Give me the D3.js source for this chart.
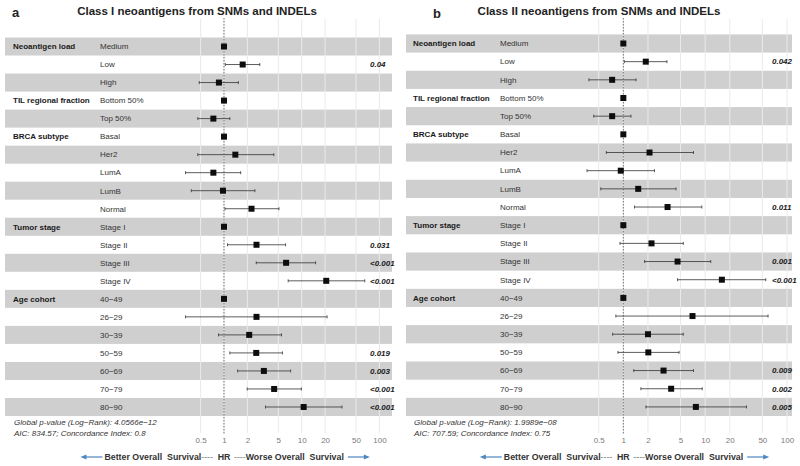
<!DOCTYPE html>
<html><head><meta charset="utf-8">
<script src="https://cdn.jsdelivr.net/npm/d3@7"></script>
<style>body{margin:0;background:#fff} svg{display:block;font-family:"Liberation Sans",Arial,sans-serif}</style>
</head><body><svg id="c" width="800" height="466"></svg>
<script>
// ---------- data ----------
const groupLabels = ["Neoantigen load","","","TIL regional fraction","","BRCA subtype","","","","","Tumor stage","","","","Age cohort","","","","","",""];
const levels = ["Medium","Low","High","Bottom 50%","Top 50%","Basal","Her2","LumA","LumB","Normal","Stage I","Stage II","Stage III","Stage IV","40\u221249","26\u221229","30\u221239","50\u221259","60\u221269","70\u221279","80\u221290"];

const hrA  = [1,1.74,0.86,1,0.73,1,1.40,0.73,0.97,2.26,1,2.62,6.3,20.7,1,2.62,2.11,2.6,3.26,4.42,10.6];
const lowA = [null,1.04,0.48,null,0.46,null,0.46,0.32,0.38,1.03,null,1.11,2.6,6.7,null,0.32,0.85,1.19,1.5,1.99,3.42];
const highA= [null,2.89,1.53,null,1.19,null,4.38,1.64,2.5,5.1,null,6.2,15.1,64.8,null,21.2,5.5,5.65,7.2,9.9,33];
const pA   = ["","0.04","","","","","","","","","","0.031","<0.001","<0.001","","","","0.019","0.003","<0.001","<0.001"];

const hrB  = [1,1.88,0.73,1,0.73,1,2.09,0.93,1.52,3.47,1,2.21,4.6,16,1,7.0,2.0,2.02,3.1,3.84,7.7];
const lowB = [null,1.03,0.38,null,0.435,null,0.62,0.36,0.53,1.37,null,0.91,1.82,4.6,null,0.81,0.74,0.86,1.34,1.64,1.89];
const highB= [null,3.41,1.43,null,1.24,null,7.2,2.4,4.4,9.1,null,5.4,11.7,55,null,58.7,5.4,4.8,7.2,9.2,32];
const pB   = ["","0.042","","","","","","","","0.011","","","0.001","<0.001","","","","","0.009","0.002","0.005"];

const tickValues = [0.5,1,2,5,10,20,50,100];
const tickLabels = ["0.5","1","2","5","10","20","50","100"];

const titles = ["Class I neoantigens from SNMs and INDELs","Class II neoantigens from SNMs and INDELs"];
const panelLetters = ["a","b"];
const footer1 = ["Global p-value (Log\u2212Rank): 4.0566e\u221212","Global p-value (Log\u2212Rank): 1.9989e\u221208"];
const footer2 = ["AIC: 834.57; Concordance Index: 0.8","AIC: 707.59; Concordance Index: 0.75"];

// ---------- layout ----------
const panels = [
  {hr:hrA, lo:lowA, hi:highA, p:pA, xr:[200.6,379.4], yr:[37.5,416], bx:[5,392], gx:13, lx:100, px:370, tx:197, letterX:12, letterY:17, fx:14},
  {hr:hrB, lo:lowB, hi:highB, p:pB, xr:[598.7,787], yr:[34.4,416], bx:[406,792], gx:413, lx:500, px:772, tx:599, letterX:433, letterY:18, fx:414}
];

const svg = d3.select("#c");

panels.forEach((P, k) => {
  const g = svg.append("g");
  const x = d3.scaleLog().domain([0.5,100]).range(P.xr);
  const y = d3.scaleBand().domain(d3.range(levels.length)).range(P.yr).padding(0);

  // bands
  g.selectAll("rect.band").data(d3.range(levels.length).filter(i => i % 2 === 0))
    .join("rect").attr("class","band")
    .attr("x", P.bx[0]).attr("width", P.bx[1]-P.bx[0])
    .attr("y", i => y(i)).attr("height", y.bandwidth())
    .attr("fill", "#cfcfcf");

  // gridlines
  g.selectAll("line.grid").data(tickValues).join("line").attr("class","grid")
    .attr("x1", d => x(d)).attr("x2", d => x(d))
    .attr("y1", 19).attr("y2", 433)
    .attr("stroke", "#eaeaea").attr("stroke-width", 1);

  // reference line at HR = 1
  g.append("line").attr("x1", x(1)).attr("x2", x(1)).attr("y1", 18).attr("y2", 434)
    .attr("stroke", "#555").attr("stroke-width", 0.8).attr("stroke-dasharray", "1.5,1.5");

  // text columns
  g.selectAll("text.grp").data(groupLabels).join("text").attr("class","grp")
    .attr("x", P.gx).attr("y", (d,i) => y(i) + y.bandwidth()/2).attr("dy","0.35em")
    .attr("font-size", 8).attr("font-weight","bold").attr("fill","#1a1a1a").text(d => d);
  g.selectAll("text.lvl").data(levels).join("text").attr("class","lvl")
    .attr("x", P.lx).attr("y", (d,i) => y(i) + y.bandwidth()/2).attr("dy","0.35em")
    .attr("font-size", 8).attr("fill","#333").text(d => d);
  g.selectAll("text.pv").data(P.p).join("text").attr("class","pv")
    .attr("x", P.px).attr("y", (d,i) => y(i) + y.bandwidth()/2).attr("dy","0.35em")
    .attr("font-size", 8).attr("font-weight","bold").attr("font-style","italic").attr("fill","#1a1a1a").text(d => d);

  // CIs
  const ci = d3.range(levels.length).filter(i => P.lo[i] != null);
  g.selectAll("line.ci").data(ci).join("line").attr("class","ci")
    .attr("x1", i => x(P.lo[i])).attr("x2", i => x(P.hi[i]))
    .attr("y1", i => y(i) + y.bandwidth()/2).attr("y2", i => y(i) + y.bandwidth()/2)
    .attr("stroke", "#333").attr("stroke-width", 0.8);
  ["lo","hi"].forEach(key => {
    g.selectAll("line.cap"+key).data(ci).join("line").attr("class","cap"+key)
      .attr("x1", i => x(P[key][i])).attr("x2", i => x(P[key][i]))
      .attr("y1", i => y(i) + y.bandwidth()/2 - 1.5).attr("y2", i => y(i) + y.bandwidth()/2 + 1.5)
      .attr("stroke", "#333").attr("stroke-width", 0.8);
  });
  // points
  g.selectAll("rect.pt").data(P.hr).join("rect").attr("class","pt")
    .attr("x", d => x(d) - 3).attr("y", (d,i) => y(i) + y.bandwidth()/2 - 3)
    .attr("width", 6).attr("height", 6).attr("fill", "#0d0d0d");

  // axis tick labels
  const ax = g.append("g").attr("transform", "translate(0,437)")
    .call(d3.axisBottom(x).tickValues(tickValues).tickSize(0).tickPadding(0)
      .tickFormat((d,i) => tickLabels[i]));
  ax.select(".domain").remove();
  ax.selectAll("text").attr("font-size", 8).attr("fill", "#7a7a7a").attr("font-family", "inherit").attr("dy","0.71em");

  // titles
  g.append("text").attr("x", P.tx).attr("y", 15).attr("text-anchor","middle")
    .attr("font-size", 11.5).attr("font-weight","bold").attr("fill","#222").text(titles[k]);
  g.append("text").attr("x", P.letterX).attr("y", P.letterY)
    .attr("font-size", 13).attr("font-weight","bold").attr("fill","#222").text(panelLetters[k]);

  // footers
  g.append("text").attr("x", P.fx).attr("y", 425).attr("font-size", 8).attr("font-style","italic").attr("fill","#333").text(footer1[k]);
  g.append("text").attr("x", P.fx).attr("y", 436).attr("font-size", 8).attr("font-style","italic").attr("fill","#333").text(footer2[k]);

  // bottom legend
  const ly = 460, cx = x(1);
  g.append("text").attr("x", cx).attr("y", ly).attr("text-anchor","middle")
    .attr("font-size", 8.8).attr("font-weight","bold").attr("fill","#333").text("HR");
  const left = g.append("text").attr("x", cx - 11).attr("y", ly).attr("text-anchor","end")
    .attr("font-size", 8.8).attr("fill","#333");
  left.append("tspan").attr("font-weight","bold").text("Better Overall\u00a0 Survival");
  left.append("tspan").attr("fill","#777").text("----");
  const right = g.append("text").attr("x", cx + 10).attr("y", ly).attr("text-anchor","start")
    .attr("font-size", 8.8).attr("fill","#333");
  right.append("tspan").attr("fill","#777").text("----");
  right.append("tspan").attr("font-weight","bold").text("Worse Overall\u00a0 Survival");
  const lw = left.node().getComputedTextLength();
  const rw = right.node().getComputedTextLength();
  const lx0 = cx - 11 - lw - 2, rx0 = cx + 10 + rw + 4;
  const blue = "#4f86c0";
  g.append("line").attr("x1", lx0).attr("x2", lx0 - 18).attr("y1", ly - 3).attr("y2", ly - 3).attr("stroke", blue).attr("stroke-width", 1.2);
  g.append("path").attr("d", `M${lx0-22},${ly-3} L${lx0-16},${ly-5.5} L${lx0-16},${ly-0.5}Z`).attr("fill", blue);
  g.append("line").attr("x1", rx0).attr("x2", rx0 + 18).attr("y1", ly - 3).attr("y2", ly - 3).attr("stroke", blue).attr("stroke-width", 1.2);
  g.append("path").attr("d", `M${rx0+22},${ly-3} L${rx0+16},${ly-5.5} L${rx0+16},${ly-0.5}Z`).attr("fill", blue);
});
</script></body></html>
